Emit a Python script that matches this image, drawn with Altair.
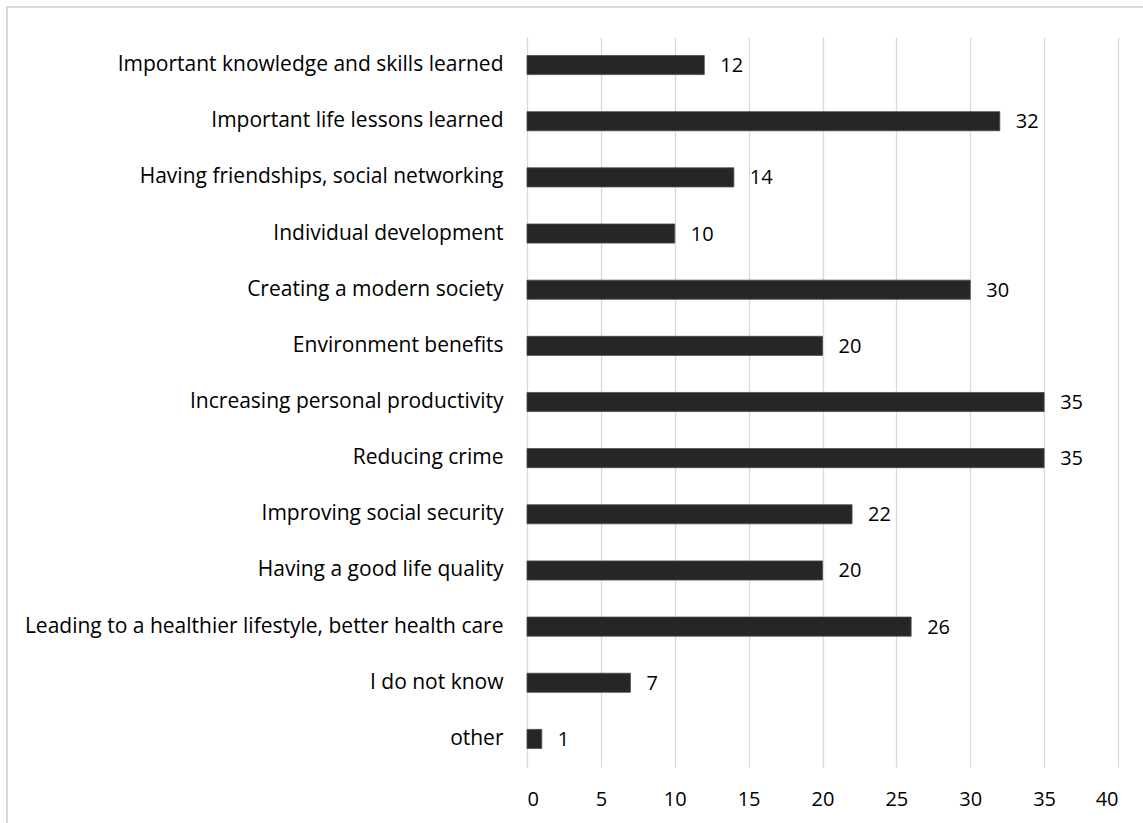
import altair as alt
import pandas as pd

# Survey answers, listed top to bottom as they appear on the chart
categories = [
    "Important knowledge and skills learned",
    "Important life lessons learned",
    "Having friendships, social networking",
    "Individual development",
    "Creating a modern society",
    "Environment benefits",
    "Increasing personal productivity",
    "Reducing crime\u2002",
    "Improving social security",
    "Having a good life quality\u2002",
    "Leading to a healthier lifestyle, better health care",
    "I do not know",
    "other\u2002",
]
counts = [12, 32, 14, 10, 30, 20, 35, 35, 22, 20, 26, 7, 1]
x_ticks = [0, 5, 10, 15, 20, 25, 30, 35, 40]

df = pd.DataFrame({"category": categories, "count": counts})

FONT = "Open Sans"
BAR_COLOR = "#262626"

x_enc = alt.X(
    "count:Q",
    scale=alt.Scale(domain=[0, 40], nice=False),
    axis=alt.Axis(
        values=x_ticks,
        title=None,
        domain=False,
        ticks=False,
        grid=True,
        gridColor="#d9d9d9",
        gridWidth=1.3,
        labelPadding=22,
        labelFont=FONT,
        labelFontSize=20,
        labelColor="#000000",
    ),
)
y_enc = alt.Y(
    "category:N",
    sort=categories,
    scale=alt.Scale(paddingInner=0.66, paddingOuter=0.33),
    axis=alt.Axis(
        title=None,
        domain=False,
        ticks=False,
        grid=False,
        labelPadding=24,
        labelFont=FONT,
        labelFontSize=21,
        labelColor="#000000",
        labelLimit=600,
    ),
)

bars = alt.Chart(df).mark_bar(
    color=BAR_COLOR, stroke="#4a4a4a", strokeWidth=0.8
).encode(x=x_enc, y=y_enc)

values = alt.Chart(df).mark_text(
    align="left", baseline="middle", dx=16, dy=1,
    font=FONT, fontSize=20, color="#000000",
).encode(x="count:Q", y=alt.Y("category:N", sort=categories), text="count:Q")

# light frame around the whole figure
frame = alt.Chart(pd.DataFrame({"f": [0]})).mark_rect(
    fill="transparent", stroke="#d9d9d9", strokeWidth=2
).encode(
    x=alt.value(-520), x2=alt.value(700),
    y=alt.value(-30), y2=alt.value(820),
)

chart = alt.layer(frame, bars, values).properties(
    width=591,
    height=730,
    autosize=alt.AutoSizeParams(type="none"),
    padding={"left": 527, "top": 37, "right": 25, "bottom": 56},
    background="white",
).configure_view(stroke=None)

chart.save("out.html", embed_options={"renderer": "svg", "actions": False})
